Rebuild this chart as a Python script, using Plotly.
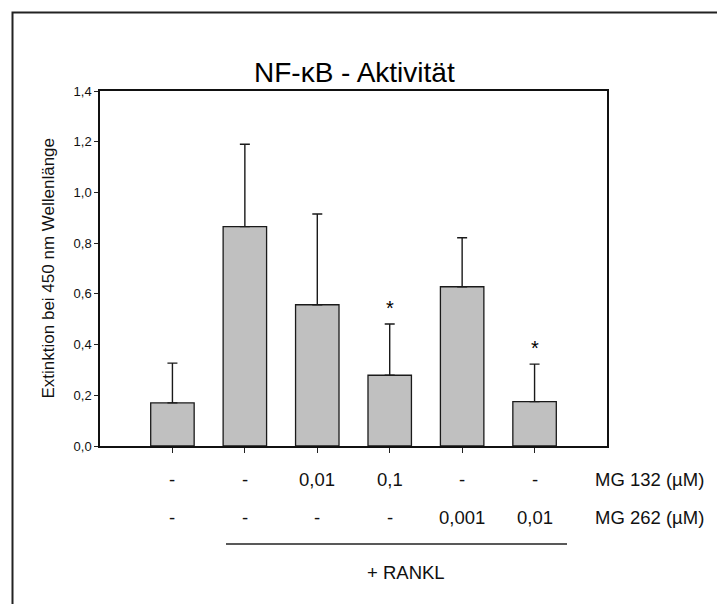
import plotly.graph_objects as go

# ---- data ----
groups = [0, 1, 2, 3, 4, 5]
values = [0.17, 0.865, 0.557, 0.279, 0.628, 0.175]
errors = [0.157, 0.325, 0.358, 0.202, 0.193, 0.148]
significant = [False, False, False, True, False, True]
mg132 = ["-", "-", "0,01", "0,1", "-", "-"]
mg262 = ["-", "-", "-", "-", "0,001", "0,01"]
row_names = ["MG 132 (µM)", "MG 262 (µM)"]
title = "NF-κB - Aktivität"
y_title = "Extinktion bei 450 nm Wellenlänge"
rankl_label = "+ RANKL"
y_ticks = [0.0, 0.2, 0.4, 0.6, 0.8, 1.0, 1.2, 1.4]

FONT = "Liberation Sans, Arial, sans-serif"
W, H = 717, 604
L, R, T, B = 100, 607, 91, 446  # plot area in pixels


def px_x(p):
    return (p - L) / (R - L)


def px_y(p):
    return (B - p) / (B - T)


fig = go.Figure()
fig.add_trace(go.Bar(
    x=groups, y=values, width=0.6,
    marker=dict(color="#c0c0c0", line=dict(color="#1a1a1a", width=1.3)),
    error_y=dict(type="data", array=errors, arrayminus=[0] * len(errors),
                 symmetric=False, color="#1a1a1a", thickness=1.4, width=5),
    showlegend=False, hoverinfo="skip",
))

annotations = []
# significance stars
for g, v, e, s in zip(groups, values, errors, significant):
    if s:
        annotations.append(dict(x=g, y=v + e, xref="x", yref="y", text="*",
                                showarrow=False, yshift=16,
                                font=dict(family=FONT, size=20, color="#000")))
# treatment rows
for g, a, b in zip(groups, mg132, mg262):
    annotations.append(dict(x=g, y=px_y(479), xref="x", yref="paper", text=a,
                            showarrow=False, yanchor="middle",
                            font=dict(family=FONT, size=18.5, color="#111")))
    annotations.append(dict(x=g, y=px_y(517), xref="x", yref="paper", text=b,
                            showarrow=False, yanchor="middle",
                            font=dict(family=FONT, size=18.5, color="#111")))
for name, yy in zip(row_names, [479, 517]):
    annotations.append(dict(x=px_x(593), y=px_y(yy), xref="paper", yref="paper",
                            text=name, showarrow=False, xanchor="left",
                            yanchor="middle",
                            font=dict(family=FONT, size=18.5, color="#111")))
annotations.append(dict(x=px_x(406), y=px_y(572), xref="paper", yref="paper",
                        text=rankl_label, showarrow=False, yanchor="middle",
                        font=dict(family=FONT, size=18.5, color="#111")))
# title
annotations.append(dict(x=px_x(354), y=px_y(72), xref="paper", yref="paper",
                        text=title, showarrow=False, yanchor="middle",
                        font=dict(family=FONT, size=28, color="#000")))
# y title
annotations.append(dict(x=px_x(48), y=0.5, xref="paper", yref="paper",
                        text=y_title, showarrow=False, textangle=-90,
                        xanchor="center", yanchor="middle",
                        font=dict(family=FONT, size=17, color="#111")))

shapes = [
    # RANKL bracket line
    dict(type="line", xref="paper", yref="paper",
         x0=px_x(226), x1=px_x(567), y0=px_y(544), y1=px_y(544),
         line=dict(color="#222", width=1.3)),
    # outer frame
    dict(type="rect", xref="paper", yref="paper",
         x0=px_x(12.5), x1=px_x(760), y0=px_y(650), y1=px_y(12.5),
         line=dict(color="#222", width=2)),
]

fig.update_layout(
    width=W, height=H,
    margin=dict(l=L, r=W - R, t=T, b=H - B, pad=0),
    paper_bgcolor="white", plot_bgcolor="white",
    separators=",.",
    font=dict(family=FONT, color="#111"),
    annotations=annotations, shapes=shapes,
    bargap=0.4,
)
fig.update_xaxes(range=[-1, 6], tickvals=groups, showticklabels=False,
                 ticks="outside", ticklen=5, tickcolor="#222", tickwidth=1.2,
                 showline=True, linecolor="#111", linewidth=1.5, mirror=True,
                 showgrid=False, zeroline=False)
fig.update_yaxes(range=[0, 1.4], tickvals=y_ticks, tickformat=".1f",
                 ticks="outside", ticklen=4, tickcolor="#222", tickwidth=1.2,
                 tickfont=dict(family=FONT, size=13, color="#111"),
                 showline=True, linecolor="#111", linewidth=1.5, mirror=True,
                 showgrid=False, zeroline=False)

fig.write_html(
    "out.html",
    config={"displayModeBar": False},
    post_script="document.body.style.margin='0';"
                "document.body.style.overflow='hidden';",
)
